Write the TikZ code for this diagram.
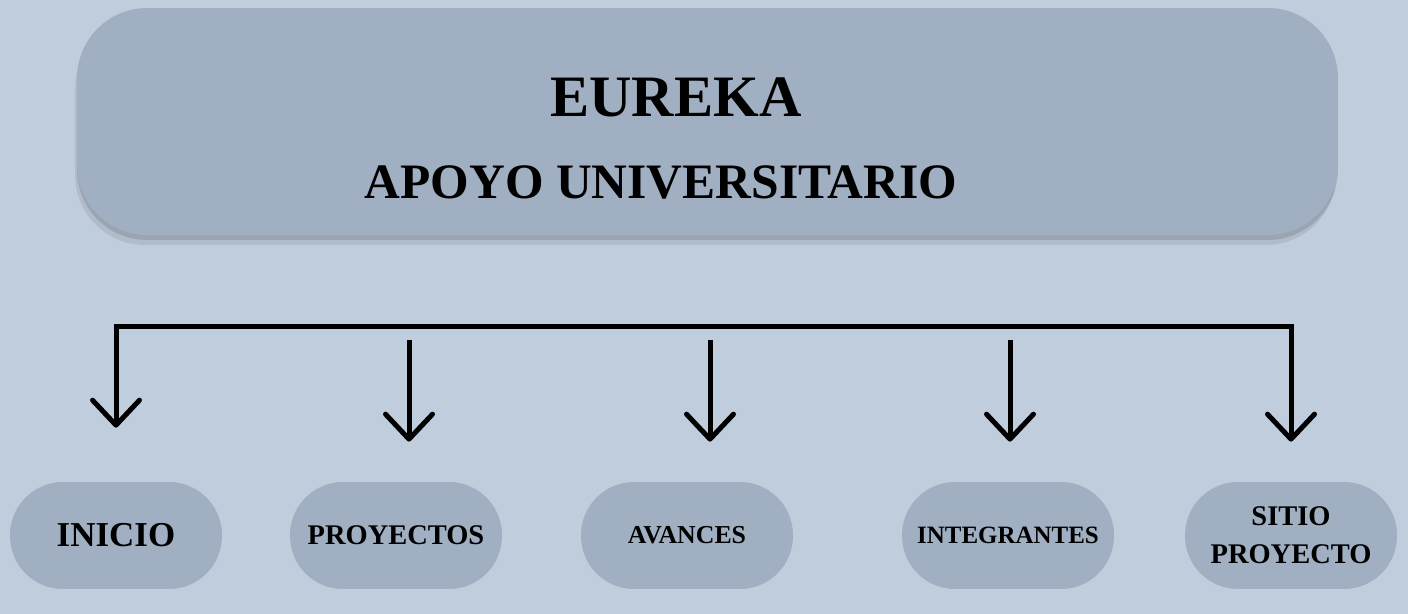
\documentclass[tikz,border=0pt]{standalone}
\usepackage{fontspec}
\setmainfont{Liberation Serif}
\usetikzlibrary{positioning,arrows.meta,shadows}
\definecolor{fondo}{RGB}{192,205,220}
\definecolor{caja}{RGB}{160,175,194}
\tikzset{
  >={Straight Barb[length=0.5cm, width=0.94cm, round]},
  titlebox/.style={fill=caja, rounded corners=1.4cm, minimum width=25.22cm, minimum height=4.54cm,
    general shadow={fill=black, opacity=0.08, shadow yshift=-0.2cm, shadow xshift=-0.04cm},
    general shadow={fill=black, opacity=0.12, shadow yshift=-0.1cm}},
  pill/.style={fill=caja, rounded corners=1.06cm, minimum width=4.24cm, minimum height=2.14cm, align=center},
  flecha/.style={line width=0.1cm, ->},
}
\begin{document}
\begin{tikzpicture}[x=0.02cm, y=-0.02cm]
\fill[fondo] (0,0) rectangle (1408,614);
\useasboundingbox (0,0) rectangle (1408,614);
\node[titlebox] (titulo) at (707.5,121.5) {};
\node[font=\bfseries\fontsize{33.4}{40}\selectfont] (eureka) at (676,97) {EUREKA};
\node[font=\bfseries\fontsize{28.2}{34}\selectfont] (apoyo) at (661,182) {APOYO UNIVERSITARIO};
\node[pill, font=\bfseries\fontsize{19.9}{24}\selectfont] (inicio) at (116,535.5) {INICIO};
\node[pill, font=\bfseries\fontsize{16.2}{20}\selectfont] (proyectos) at (396,535.5) {PROYECTOS};
\node[pill, font=\bfseries\fontsize{14.7}{18}\selectfont] (avances) at (687,535.5) {AVANCES};
\node[pill, font=\bfseries\fontsize{14.2}{18}\selectfont] (integrantes) at (1008,535.5) {INTEGRANTES};
\node[pill, font=\bfseries\fontsize{16.2}{21.5}\selectfont] (sitio) at (1291,535.5) {SITIO\\PROYECTO};
\coordinate (barra) at (1291,327);
\coordinate (c2) at (409,340);
\coordinate (c3) at (710,340);
\coordinate (c4) at (1010,340);
\draw[flecha, <->, shorten <=1.08cm, shorten >=0.8cm] (inicio.north) |- (barra) -- (sitio.north);
\draw[flecha, shorten >=0.8cm] (c2) -- (c2 |- proyectos.north);
\draw[flecha, shorten >=0.8cm] (c3) -- (c3 |- avances.north);
\draw[flecha, shorten >=0.8cm] (c4) -- (c4 |- integrantes.north);
\end{tikzpicture}
\end{document}
